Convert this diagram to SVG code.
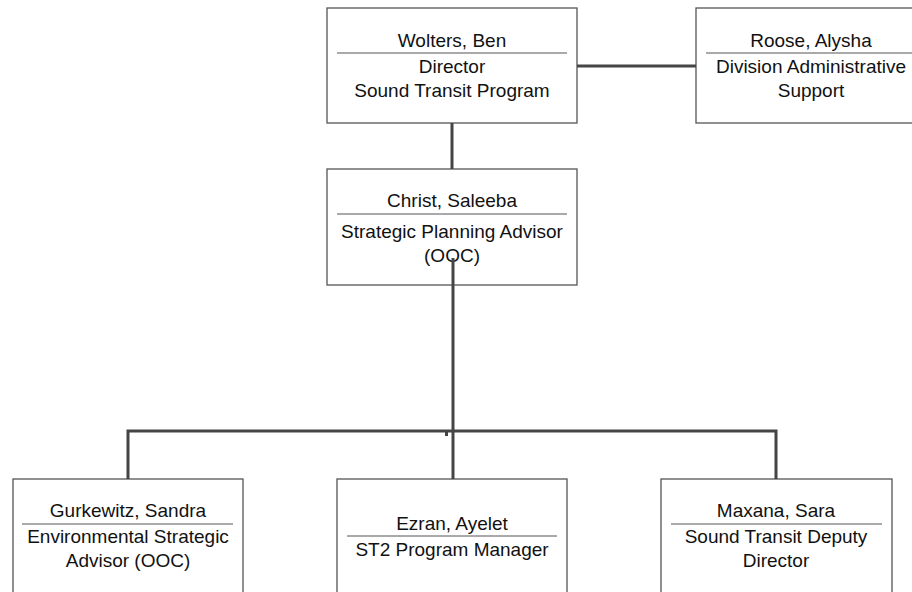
<svg xmlns="http://www.w3.org/2000/svg" width="912" height="592" viewBox="0 0 912 592">
<style>
.box{fill:#fff;stroke:#555;stroke-width:1.3}
.div{stroke:#555;stroke-width:1}
.t{font-family:"Liberation Sans",Arial,sans-serif;font-size:19px;fill:#111;text-anchor:middle}
.c{stroke:#454545;stroke-width:3;fill:none}
</style>
<rect width="912" height="592" fill="#fff"/>
<g id="wolters">
<rect class="box" x="327" y="8" width="250" height="115"/>
<line class="div" x1="337" y1="53" x2="567" y2="53"/>
<text class="t" x="452" y="47">Wolters, Ben</text>
<text class="t" x="452" y="73">Director</text>
<text class="t" x="452" y="97">Sound Transit Program</text>
</g>
<g id="roose">
<rect class="box" x="696" y="8" width="230" height="115"/>
<line class="div" x1="706" y1="53" x2="916" y2="53"/>
<text class="t" x="811" y="47">Roose, Alysha</text>
<text class="t" x="811" y="73">Division Administrative</text>
<text class="t" x="811" y="97">Support</text>
</g>
<g id="christ">
<rect class="box" x="327" y="169" width="250" height="116"/>
<line class="div" x1="337" y1="214" x2="567" y2="214"/>
<text class="t" x="452" y="207">Christ, Saleeba</text>
<text class="t" x="452" y="238">Strategic Planning Advisor</text>
<text class="t" x="452" y="262">(OOC)</text>
</g>
<g id="gurkewitz">
<rect class="box" x="13" y="479" width="230" height="130"/>
<line class="div" x1="22" y1="524" x2="233" y2="524"/>
<text class="t" x="128" y="517">Gurkewitz, Sandra</text>
<text class="t" x="128" y="543">Environmental Strategic</text>
<text class="t" x="128" y="567">Advisor (OOC)</text>
</g>
<g id="ezran">
<rect class="box" x="337" y="479" width="230" height="130"/>
<line class="div" x1="347" y1="536" x2="557" y2="536"/>
<text class="t" x="452" y="530">Ezran, Ayelet</text>
<text class="t" x="452" y="556">ST2 Program Manager</text>
</g>
<g id="maxana">
<rect class="box" x="661" y="479" width="231" height="130"/>
<line class="div" x1="671" y1="524" x2="882" y2="524"/>
<text class="t" x="776" y="517">Maxana, Sara</text>
<text class="t" x="776" y="543">Sound Transit Deputy</text>
<text class="t" x="776" y="567">Director</text>
</g>
<g id="connectors">
<line class="c" x1="577" y1="66" x2="696" y2="66"/>
<line class="c" x1="452" y1="123" x2="452" y2="169"/>
<line class="c" x1="453" y1="258" x2="453" y2="479"/>
<polyline class="c" points="128,479 128,431 776,431 776,479"/>
<line class="c" x1="446.5" y1="431" x2="446.5" y2="436" stroke-width="2"/>
</g>
</svg>
